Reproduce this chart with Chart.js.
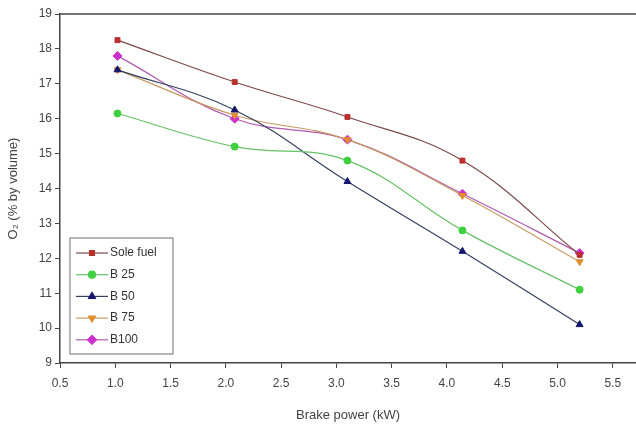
<!DOCTYPE html>
<html>
<head>
<meta charset="utf-8">
<script src="https://cdn.jsdelivr.net/npm/chart.js@4/dist/chart.umd.min.js"></script>
<style>
html,body{margin:0;padding:0;background:#fff;}
#wrap{width:636px;height:427px;position:relative;}
</style>
</head>
<body>
<div id="wrap"><canvas id="c" width="636" height="427"></canvas></div>
<script>
const brakePower = [1.02, 2.08, 3.10, 4.14, 5.20];
const soleFuel = [18.25, 17.05, 16.05, 14.80, 12.10];
const b25 = [16.15, 15.20, 14.80, 12.80, 11.10];
const b50 = [17.40, 16.25, 14.20, 12.20, 10.10];
const b75 = [17.40, 16.10, 15.40, 13.80, 11.90];
const b100 = [17.80, 16.00, 15.40, 13.85, 12.15];
const xTicks = [0.5, 1.0, 1.5, 2.0, 2.5, 3.0, 3.5, 4.0, 4.5, 5.0, 5.5];
const yTicks = [9, 10, 11, 12, 13, 14, 15, 16, 17, 18, 19];

const FONT = "'Liberation Sans', Arial, sans-serif";
function pts(vals){ return brakePower.map((x,i)=>({x:x,y:vals[i]})); }

const seriesDefs = [
  {label:'Sole fuel', data:soleFuel, line:'#7a4a4a', fill:'#b8312f', style:'rect', rot:0, r:3.5},
  {label:'B 25', data:b25, line:'#66c266', fill:'#3fd03f', style:'circle', rot:0, r:3.5},
  {label:'B 50', data:b50, line:'#34405e', fill:'#14146e', style:'triangle', rot:0, r:4},
  {label:'B 75', data:b75, line:'#c99a62', fill:'#e08f30', style:'triangle', rot:180, r:4},
  {label:'B100', data:b100, line:'#b05ab0', fill:'#cc30cc', style:'rectRot', rot:0, r:4.5}
];

const datasets = seriesDefs.map(s=>({
  label:s.label,
  data:pts(s.data),
  borderColor:s.line,
  borderWidth:1.2,
  backgroundColor:s.fill,
  pointBackgroundColor:s.fill,
  pointBorderColor:s.fill,
  pointStyle:s.style,
  pointRotation:s.rot,
  pointRadius:s.r,
  pointBorderWidth:1,
  tension:0.4,
  fill:false
}));

const legendPlugin = {
  id:'insideLegend',
  afterDraw(chart){
    const ctx = chart.ctx;
    const bx = 70, by = 238, bw = 103, bh = 116;
    ctx.save();
    ctx.strokeStyle = '#888';
    ctx.lineWidth = 1.2;
    ctx.strokeRect(bx, by, bw, bh);
    ctx.font = '12px ' + FONT;
    ctx.textBaseline = 'middle';
    chart.data.datasets.forEach((ds,i)=>{
      const y = 253 + i*21.7;
      ctx.strokeStyle = ds.borderColor;
      ctx.lineWidth = 1.2;
      ctx.beginPath(); ctx.moveTo(76, y); ctx.lineTo(108, y); ctx.stroke();
      ctx.fillStyle = ds.pointBackgroundColor;
      ctx.strokeStyle = ds.pointBorderColor;
      Chart.helpers.drawPoint(ctx, {pointStyle:ds.pointStyle, rotation:ds.pointRotation, radius:ds.pointRadius, borderWidth:1}, 92, y);
      ctx.fillStyle = '#333';
      ctx.fillText(ds.label, 110, y);
    });
    const ca = chart.chartArea;
    ctx.strokeStyle = '#444';
    ctx.lineWidth = 1.5;
    ctx.beginPath(); ctx.moveTo(ca.left, ca.top); ctx.lineTo(ca.right, ca.top); ctx.stroke();
    ctx.restore();
  }
};

new Chart(document.getElementById('c'), {
  type:'line',
  data:{datasets:datasets},
  plugins:[legendPlugin],
  options:{
    responsive:false,
    animation:false,
    layout:{autoPadding:false, padding:{top:14, right:0, left:0, bottom:0}},
    plugins:{legend:{display:false}, tooltip:{enabled:false}},
    scales:{
      x:{
        type:'linear',
        min:0.5, max:5.71,
        afterBuildTicks(ax){ ax.ticks = xTicks.map(v=>({value:v})); },
        afterFit(ax){ ax.height = 64; ax.paddingRight = 0; ax.paddingLeft = 0; },
        ticks:{color:'#444', font:{family:FONT, size:12}, padding:8, maxRotation:0, autoSkip:false,
          callback:v=>Number(v).toFixed(1)},
        grid:{display:true, drawOnChartArea:false, drawTicks:true, tickLength:5, color:'#444', lineWidth:1},
        border:{display:true, color:'#444', width:1.5},
        title:{display:true, text:'Brake power (kW)', color:'#444', font:{family:FONT, size:13}, padding:{top:8}}
      },
      y:{
        type:'linear',
        min:9, max:19,
        afterBuildTicks(ax){ ax.ticks = yTicks.map(v=>({value:v})); },
        afterFit(ax){ ax.width = 60; },
        ticks:{color:'#444', font:{family:FONT, size:12}, padding:3},
        grid:{display:true, drawOnChartArea:false, drawTicks:true, tickLength:5, color:'#444', lineWidth:1},
        border:{display:true, color:'#444', width:1.5},
        title:{display:true, text:'O₂ (% by volume)', color:'#444', font:{family:FONT, size:13}, padding:{top:6, bottom:4}}
      }
    }
  }
});
</script>
</body>
</html>
